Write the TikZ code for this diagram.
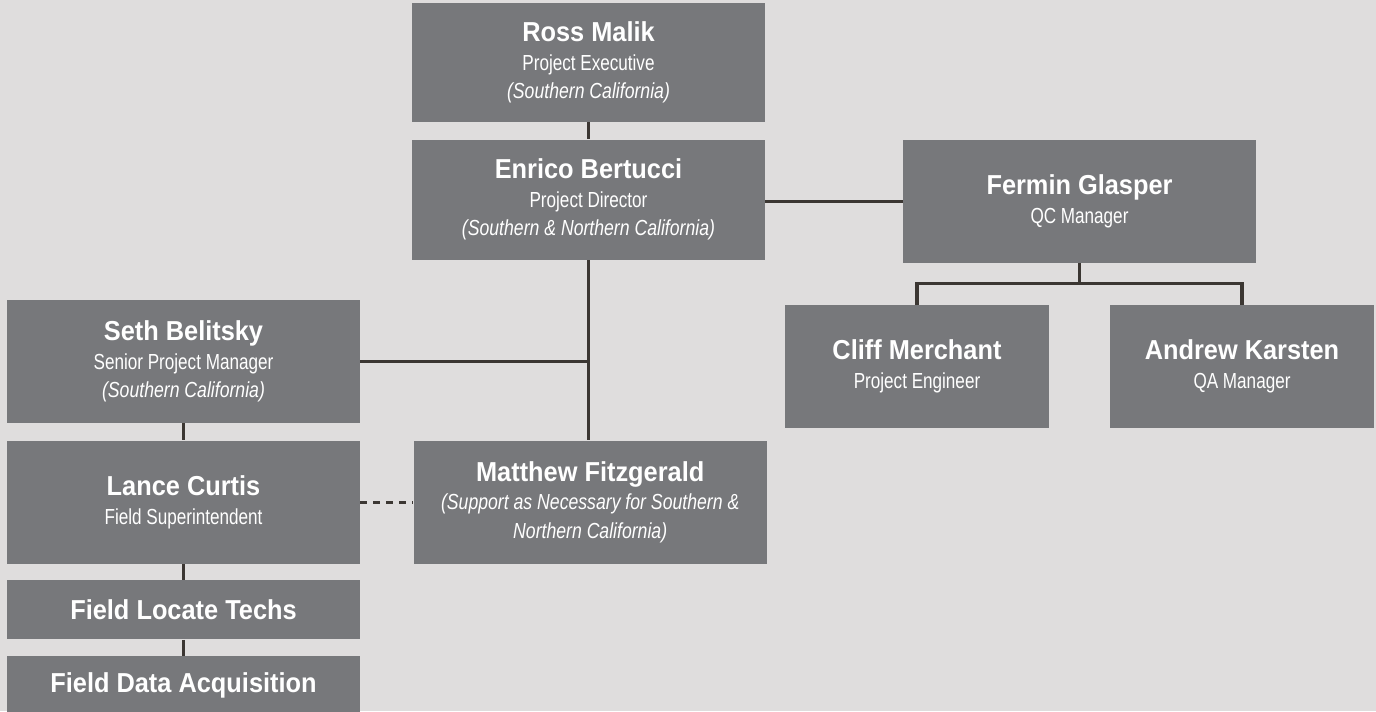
\documentclass[tikz,border=0pt]{standalone}
\usepackage{fontspec}
\setmainfont{Liberation Sans}[
  UprightFeatures={FakeStretch=0.785},
  BoldFeatures={FakeStretch=0.925},
  ItalicFeatures={FakeStretch=0.81}]
\usepackage{xcolor}
\usetikzlibrary{positioning}
\definecolor{chartbg}{HTML}{DFDDDD}
\definecolor{boxgray}{HTML}{77787B}
\definecolor{linkgray}{HTML}{3B3632}
\newcommand{\who}[1]{{\fontsize{15.6}{16.2}\selectfont\bfseries #1}}

\begin{document}
\begin{tikzpicture}[
    font=\fontsize{12.4}{16.2}\selectfont,
    member/.style={
		rectangle,
		fill=boxgray,
		text=white,
		align=center,
		inner sep=0pt,
		minimum width=7.06cm,
		minimum height=2.46cm
	},
	narrowmember/.style={
		member,
		minimum width=5.28cm
	},
	flatmember/.style={
		member,
		minimum height=1.18cm
	},
	link/.style={
		draw=linkgray,
		line width=1.8pt
	}
  ]
  \fill [chartbg] (0,0) rectangle (27.52,-14.22);
  \useasboundingbox (0,0) rectangle (27.52,-14.22);

    % We start by placing the blocks
  \node [member, minimum height=2.38cm] (ross) at (11.77,-1.25)
 {\who{Ross Malik}\\Project Executive\\\textit{(Southern California)}};

  \node [member, minimum height=2.40cm, below=0.34cm of ross] (enrico)
 {\who{Enrico Bertucci}\\Project Director\\\textit{(Southern \& Northern California)}};

  \node [member] (fermin) at (21.59,-4.03)
 {\who{Fermin Glasper}\\QC Manager};

  \node [narrowmember] (cliff) at (18.34,-7.33)
 {\who{Cliff Merchant}\\Project Engineer};

  \node [narrowmember] (andrew) at (24.84,-7.33)
 {\who{Andrew Karsten}\\QA Manager};

  \node [member] (seth) at (3.67,-7.23)
 {\who{Seth Belitsky}\\Senior Project Manager\\\textit{(Southern California)}};

  \node [member, below=0.34cm of seth] (lance)
 {\who{Lance Curtis}\\Field Superintendent};

  \node [member, right=1.06cm of lance] (matthew)
 {\who{Matthew Fitzgerald}\\\textit{(Support as Necessary for Southern \&}\\\textit{Northern California)}};

  \node [flatmember, below=0.32cm of lance] (techs)
 {\who{Field Locate Techs}};

  \node [flatmember, below=0.32cm of techs] (data)
 {\who{Field Data Acquisition}};

 % connectors
 \coordinate [below=0.4cm of fermin.south] (qcsplit);

 \draw [link] (ross) -- (enrico);
 \draw [link] (enrico.south) -- (enrico.south |- matthew.north);
 \draw [link] (seth.east) -- (seth.east -| enrico.south);
 \draw [link] (fermin.west) -- (fermin.west -| enrico.east);
 \draw [link] (fermin.south) -- (qcsplit);
 \draw [link] (cliff.north) |- (qcsplit) -| (andrew.north);
 \draw [link] (seth) -- (lance);
 \draw [link] (lance) -- (techs);
 \draw [link] (techs) -- (data);
 \draw [link, dash pattern=on 0.14cm off 0.12cm] (lance.east) -- (matthew.west);

\end{tikzpicture}
\end{document}
